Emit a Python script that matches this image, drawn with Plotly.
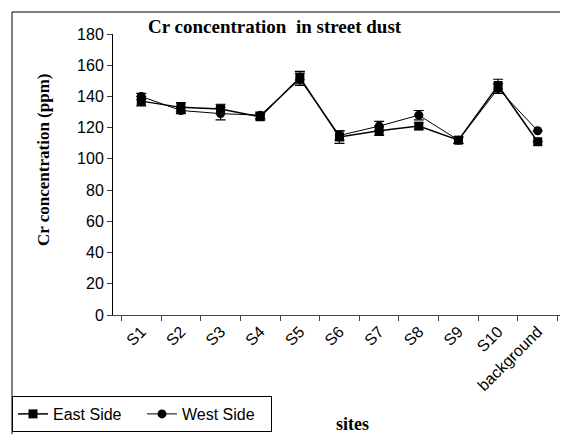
import plotly.graph_objects as go

sites = ["S1", "S2", "S3", "S4", "S5", "S6", "S7", "S8", "S9", "S10", "background"]
east = [137, 133, 132, 127, 152, 114, 118, 121, 112, 147, 111]
west = [140, 131, 129, 128, 151, 115, 121, 128, 112, 145, 118]
east_err = [3, 3, 3, 2, 4, 4, 3, 2, 2, 4, 0]
west_err = [2, 2, 4, 2, 4, 3, 3, 3, 2, 3, 0]
y_ticks = [0, 20, 40, 60, 80, 100, 120, 140, 160, 180]

OFF = 8  # page body margin
W, H = 560, 426
L, R, T, B = 113 - OFF, 2, 34 - OFF, 426 - (315 - OFF)
pw, ph = W - L - R, H - T - B


def px(x):
    return (x - OFF - L) / pw


def py(y):
    return (H - B - (y - OFF)) / ph


fig = go.Figure()
fig.add_trace(go.Scatter(
    x=sites, y=east, name="East Side", mode="lines+markers",
    line=dict(color="black", width=1.5),
    marker=dict(symbol="square", size=9, color="black"),
    error_y=dict(type="data", array=east_err, color="black", thickness=1.2, width=5),
))
fig.add_trace(go.Scatter(
    x=sites, y=west, name="West Side", mode="lines+markers",
    line=dict(color="black", width=1),
    marker=dict(symbol="circle", size=9, color="black"),
    error_y=dict(type="data", array=west_err, color="black", thickness=1.2, width=5),
))

fig.update_layout(
    width=W, height=H,
    margin=dict(l=L, r=R, t=T, b=B, autoexpand=False),
    paper_bgcolor="white", plot_bgcolor="white",
    font=dict(family="Liberation Sans, Arial", size=16, color="black"),
    showlegend=True,
    legend=dict(
        orientation="h", x=px(12), y=py(396), xanchor="left", yanchor="top",
        bordercolor="black", borderwidth=1, bgcolor="white",
        font=dict(family="Liberation Sans, Arial", size=16),
        itemwidth=30, tracegroupgap=0,
        entrywidth=84, entrywidthmode="pixels",
    ),
    xaxis=dict(
        type="category", showline=True, linecolor="#444", linewidth=1,
        ticks="outside", ticklen=5, tickcolor="#444", tickson="boundaries",
        tickangle=-45, showgrid=False, zeroline=False,
        tickfont=dict(size=16),
    ),
    yaxis=dict(
        range=[0, 180], tickvals=y_ticks, showline=True, linecolor="black",
        linewidth=1, ticks="outside", ticklen=5, tickcolor="#444",
        showgrid=False, zeroline=False, tickfont=dict(size=16),
    ),
    shapes=[dict(
        type="rect", xref="paper", yref="paper",
        x0=px(12), x1=px(567), y0=py(445), y1=py(12),
        line=dict(color="black", width=1), layer="below",
    )],
    annotations=[
        dict(text="<b>Cr concentration  in street dust</b>", xref="paper", yref="paper",
             x=px(275), y=py(26), showarrow=False, xanchor="center", yanchor="middle",
             font=dict(family="Liberation Serif, Times New Roman", size=19)),
        dict(text="<b>Cr concentration (ppm)</b>", xref="paper", yref="paper",
             x=px(43), y=py(160), showarrow=False, textangle=-90,
             xanchor="center", yanchor="middle",
             font=dict(family="Liberation Serif, Times New Roman", size=17)),
        dict(text="<b>sites</b>", xref="paper", yref="paper",
             x=px(352), y=py(424), showarrow=False, xanchor="center", yanchor="middle",
             font=dict(family="Liberation Serif, Times New Roman", size=18)),
    ],
)

fig.write_html("out.html")
